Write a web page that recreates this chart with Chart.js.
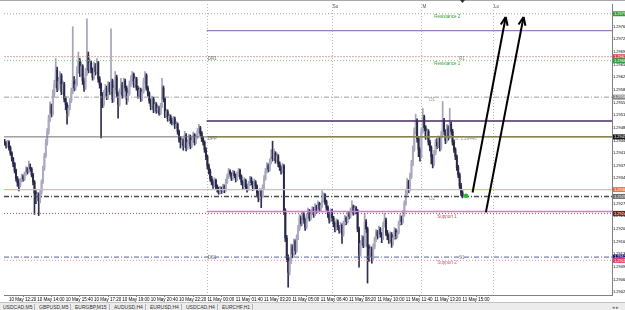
<!DOCTYPE html>
<html>
<head>
<meta charset="utf-8">
<script src="https://cdn.jsdelivr.net/npm/chart.js@4.4.1/dist/chart.umd.min.js"></script>
<style>
html, body { margin: 0; padding: 0; background: #fff; }
#wrap { position: relative; width: 625px; height: 310px; overflow: hidden; }
#myChart { position: absolute; left: 0; top: 0; }
#tabs { position: absolute; left: 0; top: 302px; width: 625px; height: 8px; background: #ececec; border-top: 1px solid #c4c4c4;
        font: 5px "Liberation Sans", Arial, sans-serif; color: #333; }
#tabs span { position: absolute; top: 1px; white-space: nowrap; }
#tabs i { position: absolute; top: 1px; width: 1px; height: 6px; background: #b4b4b4; }
</style>
</head>
<body>
<div id="wrap">
<canvas id="myChart" width="625" height="302"></canvas>
<div id="tabs"></div>
</div>
<script>
// prices in points above 1.29000, one M5 bar each
const firstOpen = 440;
const closes = [
  438,430,441,425,410,395,380,362,340,328,322,335,345,338,352,365,358,372,366,350,
  330,300,285,296,278,300,330,368,402,440,470,505,540,520,575,600,640,590,610,625,
  580,600,560,545,520,535,555,580,610,590,600,640,665,630,650,610,590,630,680,640,
  660,640,620,650,635,660,615,600,570,545,575,590,565,600,580,610,560,590,620,575,
  545,580,600,570,610,590,560,575,600,615,628,600,615,590,570,585,560,580,610,625,
  590,575,555,540,560,530,545,528,535,520,540,590,560,515,525,505,512,500,495,505,
  485,490,470,450,440,445,430,460,425,440,455,430,445,460,440,455,470,480,465,450,
  440,420,400,375,360,340,330,320,335,318,310,300,312,305,318,308,330,345,360,352,
  340,355,348,338,350,362,345,330,320,335,318,310,325,340,328,315,330,318,300,285,
  305,290,315,340,360,375,365,385,400,395,410,390,402,380,370,360,375,250,175,120,
  80,110,150,130,165,140,175,200,230,215,240,225,205,235,250,230,245,255,240,262,
  250,270,255,265,280,295,275,260,240,225,250,230,215,200,220,205,195,210,185,215,
  230,220,240,235,250,262,245,258,250,200,130,160,175,155,220,200,150,130,145,120,
  150,170,190,180,200,185,175,210,225,190,180,170,185,160,175,195,180,190,215,230,
  220,240,270,300,330,310,345,380,420,470,500,450,420,400,470,510,480,455,470,440,
  425,400,380,410,440,430,450,425,460,500,470,445,480,455,490,470,440,420,400,370,
  350,320,300,290
];
const highs = [
  448,442,446,444,430,414,398,384,366,345,336,340,352,350,358,372,370,388,380,370,
  354,334,306,302,300,308,336,374,410,448,478,515,552,546,585,612,672,648,620,636,
  630,610,606,566,550,542,562,590,760,622,615,650,690,672,662,655,618,645,782,690,
  670,665,646,662,658,672,664,622,604,578,584,600,596,608,606,754,615,598,636,626,
  580,588,617,606,618,615,596,584,610,624,636,632,622,620,596,592,590,588,618,636,
  630,596,580,560,568,565,552,550,542,540,548,617,596,565,532,530,518,516,507,512,
  510,498,494,474,456,452,450,470,464,448,462,460,452,468,464,462,478,490,484,470,
  455,444,425,404,380,366,346,336,342,338,322,315,318,316,324,322,338,352,368,364,
  356,362,360,352,358,368,366,350,334,342,338,324,332,346,344,332,338,334,322,305,
  312,310,322,348,368,384,380,394,420,443,422,414,410,406,386,375,382,378,256,182,
  128,122,158,156,172,170,184,210,240,236,248,245,230,242,258,254,252,262,260,270,
  266,278,274,272,306,300,298,280,264,246,256,254,235,220,228,225,210,218,214,222,
  238,234,248,246,258,278,266,265,262,254,205,168,182,180,243,226,205,156,152,150,
  158,178,198,196,208,204,190,218,243,230,196,186,192,190,182,204,200,196,222,240,
  236,251,278,310,340,335,355,390,430,480,518,505,455,426,478,534,515,486,478,475,
  446,430,406,418,448,450,458,455,470,553,506,475,490,486,534,496,476,446,425,405,
  376,355,326,306
];
const lows = [
  432,424,427,418,404,388,372,355,332,318,305,316,330,332,334,348,352,355,360,344,
  322,240,270,278,237,272,296,326,362,398,432,462,498,510,515,566,592,580,584,602,
  572,574,552,530,490,512,530,550,575,582,584,596,632,622,624,600,581,586,625,632,
  634,632,612,615,626,630,606,590,452,536,540,568,558,560,572,575,550,552,585,566,
  507,540,574,562,565,582,545,553,570,594,610,592,594,584,562,565,553,555,576,604,
  584,568,548,530,535,522,525,520,522,515,516,536,552,508,510,498,500,492,488,490,
  478,480,462,440,424,432,418,426,416,420,436,422,425,440,432,436,450,465,458,442,
  432,412,392,366,352,332,322,312,316,310,302,296,297,298,302,300,304,326,340,346,
  334,336,342,330,334,345,338,322,310,316,310,302,306,320,322,306,310,310,292,275,
  280,259,286,310,335,355,358,360,380,388,390,382,386,372,362,352,355,240,165,110,
  39,72,104,120,125,130,135,170,195,208,210,216,196,200,230,222,225,240,232,236,
  244,246,248,250,260,274,268,252,232,216,220,222,206,192,196,198,188,190,160,180,
  210,212,216,228,230,246,238,240,242,192,94,125,155,148,150,190,50,110,122,105,
  115,145,165,172,176,178,162,170,205,182,170,160,165,149,155,170,172,175,186,210,
  212,216,235,265,295,300,305,340,375,415,462,440,400,388,396,465,472,448,450,432,
  416,380,369,375,405,422,425,416,420,455,462,436,440,446,450,462,432,412,392,362,
  342,312,292,286
];

// time axis
const timeBars = [3,23,43,63,83,103,123,143,163,183,203,223,243,263,283,303,323];
const timeLabels = ['10 May 12:20','10 May 14:00','10 May 15:40','10 May 17:20','10 May 19:00','10 May 20:40',
  '10 May 22:20','11 May 00:00','11 May 01:40','11 May 03:20','11 May 05:00','11 May 06:40','11 May 08:20',
  '11 May 10:00','11 May 11:40','11 May 13:20','11 May 15:00'];
const priceTicks = [1.29025,1.29060,1.29095,1.29130,1.29165,1.29200,1.29235,1.29270,1.29305,1.29340,1.29375,
  1.29410,1.29445,1.29480,1.29515,1.29550,1.29585,1.29620,1.29655,1.29690,1.29725,1.29760,1.29795];

// horizontal levels (price, first bar)
const levelPrices = [1.29796,1.29749,1.29677,1.29666,1.29565,1.29499,1.29455,1.29455,1.29309,1.29290,1.29248,1.29243,1.29122,1.29113];
const levelStart  = [-0.5,142.5,-0.5,-0.5,-0.5,142.5,-0.5,142.5,-0.5,-0.5,142.5,-0.5,-0.5,-0.5];
// right-hand price boxes
const boxPrices = [1.29796,1.29677,1.29666,1.29565,1.29455,1.29309,1.29290,1.29243,1.29122,1.29113];
// texts on the chart
const noteText  = ['Resistance 2','DR1','R1','Resistance 1','D1','DPP','Lo: 1.29446','D2','Support 1','DS1','S1','Support 2'];
const noteBar   = [303,143.3,320.5,303,299.5,143.3,316.3,299.5,305.2,143.3,320.5,305.2];
const notePrice = [1.29787,1.29670,1.29670,1.29657,1.29559,1.29449,1.29449,1.29284,1.29234,1.29119,1.29119,1.29105];
// session separators
const sessionBars  = [142.5,230.8,294,344.5];
const sessionNames = ['','Su','M','Lo'];
// arrows: [from, to]
const arrowBars   = [[330.1,353.5],[339.5,366.1]];
const arrowPrices = [[1.29301,1.29787],[1.29246,1.29787]];
const lastTick = {bar: 325.5, price: 1.29292};

const tabNames = ['USDCAD,M5','GBPUSD,M5','EURGBP,M15','AUDUSD,H4','EURUSD,H4','USDCAD,H4','EURCHF,H1'];

// ---- styles
const levelStyle = [
  {c:'#86c486', w:1,   d:[1,2]},
  {c:'#9a7ab8', w:1.2, d:[]},
  {c:'#d4a8a8', w:1,   d:[2,1]},
  {c:'#86c486', w:1,   d:[1,2]},
  {c:'#9c9c9c', w:1,   d:[5,2,1,2]},
  {c:'#4a2a5e', w:1.5, d:[]},
  {c:'#707070', w:1,   d:[]},
  {c:'#aaaa2a', w:1.5, d:[]},
  {c:'#f2b493', w:1.2, d:[]},
  {c:'#4a4a4a', w:1.4, d:[5,2,1,2]},
  {c:'#e46ee4', w:1.5, d:[]},
  {c:'#9a4a66', w:1,   d:[1,2]},
  {c:'#5c5c96', w:1,   d:[5,2,1,2]},
  {c:'#e894a6', w:1,   d:[1,2]}
];
const boxColor = ['#3a9a3a','#d44848','#3a9a3a','#8a8a8a','#161616','#ee7434','#6a6a6a','#7a1818','#161678','#e0386a'];
const noteColor = ['#3a9a3a','#707070','#808080','#3a9a3a','#909090','#707070','#909090','#909090','#c25a5a','#707070','#808080','#d4607a'];
const font = 'Liberation Sans';

const xMin = -0.5, xMax = 428.5;
const base = 1.29, pt = 0.00001;
const px = v => +(base + v * pt).toFixed(5);
const opens = [firstOpen].concat(closes.slice(0, -1));
const isUp = closes.map((c, i) => c >= opens[i]);

const wickData = highs.map((h, i) => ({ x: i, y: [px(lows[i]), px(h)] }));
const bodyData = closes.map((c, i) => ({ x: i, y: [px(Math.min(opens[i], c)), px(Math.max(opens[i], c))] }));

const levelSets = levelPrices.map((p, k) => ({
  type: 'line',
  data: [{ x: levelStart[k], y: p }, { x: xMax, y: p }],
  borderColor: levelStyle[k].c, borderWidth: levelStyle[k].w, borderDash: levelStyle[k].d,
  pointRadius: 0, fill: false, order: 0
}));
const arrowSets = arrowBars.map((b, k) => ({
  type: 'line', arrow: true,
  data: [{ x: b[0], y: arrowPrices[k][0] }, { x: b[1], y: arrowPrices[k][1] }],
  borderColor: '#000', borderWidth: 2, pointRadius: 0, fill: false, order: -2
}));

const decor = {
  id: 'decor',
  beforeDraw(chart) {
    const c = chart.ctx;
    c.save();
    c.fillStyle = '#fff';
    c.fillRect(0, 0, chart.width, chart.height);
    c.fillStyle = '#a8a8a8';
    c.fillRect(0, 0, chart.width, 1);
    c.restore();
  },
  beforeDatasetsDraw(chart) {
    const c = chart.ctx, a = chart.chartArea, xs = chart.scales.x;
    c.save();
    c.strokeStyle = '#b8b8b8';
    c.lineWidth = 1;
    c.setLineDash([1, 2]);
    sessionBars.forEach(b => {
      const x = Math.round(xs.getPixelForValue(b)) + 0.5;
      c.beginPath(); c.moveTo(x, a.top); c.lineTo(x, a.bottom); c.stroke();
    });
    c.restore();
  },
  afterDraw(chart) {
    const c = chart.ctx, a = chart.chartArea, xs = chart.scales.x, ys = chart.scales.y;
    c.save();
    // arrow heads
    chart.data.datasets.forEach((ds, i) => {
      if (!ds.arrow) return;
      const pts = chart.getDatasetMeta(i).data;
      const p0 = pts[0], p1 = pts[pts.length - 1];
      const ang = Math.atan2(p1.y - p0.y, p1.x - p0.x);
      c.strokeStyle = '#000'; c.lineWidth = 2; c.setLineDash([]);
      [0.4, -0.4].forEach(d => {
        c.beginPath();
        c.moveTo(p1.x, p1.y);
        c.lineTo(p1.x - 9 * Math.cos(ang + d), p1.y - 9 * Math.sin(ang + d));
        c.stroke();
      });
    });
    // notes
    c.font = '4.5px "' + font + '"';
    c.textBaseline = 'middle';
    c.textAlign = 'left';
    noteText.forEach((t, k) => {
      c.fillStyle = noteColor[k];
      c.fillText(t, xs.getPixelForValue(noteBar[k]), ys.getPixelForValue(notePrice[k]));
    });
    sessionNames.forEach((t, k) => {
      if (!t) return;
      c.fillStyle = '#505050';
      c.fillText(t, xs.getPixelForValue(sessionBars[k]) + 1, a.top + 3);
    });
    // chart shift marker
    const sx = xs.getPixelForValue(closes.length - 1);
    c.fillStyle = '#303030';
    c.beginPath(); c.moveTo(sx - 2.5, 0); c.lineTo(sx + 2.5, 0); c.lineTo(sx, 3); c.closePath(); c.fill();
    // price boxes
    c.font = '4px "' + font + '"';
    boxPrices.forEach((p, k) => {
      const y = ys.getPixelForValue(p);
      c.fillStyle = boxColor[k];
      c.fillRect(a.right + 1, y - 2.5, 13, 5);
      c.fillStyle = '#fff';
      c.fillText(p.toFixed(5), a.right + 2, y + 0.2);
    });
    c.restore();
  }
};

function drawChart() {
  const ctx = document.getElementById('myChart').getContext('2d');
  new Chart(ctx, {
    type: 'bar',
    data: {
      datasets: [
        ...levelSets,
        {
          label: 'wick', data: wickData, barThickness: 1, grouped: false, order: 2,
          backgroundColor: isUp.map(u => u ? '#a2a2b8' : '#2e2e50')
        },
        {
          label: 'body', data: bodyData, barThickness: 1.3, grouped: false, minBarLength: 1, order: 1,
          backgroundColor: isUp.map(u => u ? '#aaaac0' : '#282848')
        },
        ...arrowSets,
        {
          type: 'line', data: [{ x: lastTick.bar, y: lastTick.price }], showLine: false,
          pointRadius: 2.3, pointBackgroundColor: '#22c022', pointBorderWidth: 0, order: -3
        }
      ]
    },
    options: {
      responsive: false,
      animation: false,
      events: [],
      layout: { padding: { top: 2, left: 0, right: 0, bottom: 0 } },
      plugins: { legend: { display: false }, tooltip: { enabled: false } },
      scales: {
        x: {
          type: 'linear', min: xMin, max: xMax, offset: false,
          grid: { display: true, drawOnChartArea: false, tickLength: 2, color: '#808080' },
          border: { display: true, color: '#808080' },
          afterBuildTicks: s => { s.ticks = timeBars.map(v => ({ value: v })); },
          afterFit: s => { s.height = 7; },
          ticks: {
            autoSkip: false, maxRotation: 0, minRotation: 0, align: 'start', padding: 0,
            color: '#000', font: { size: 4.5, family: font },
            callback: (v, i) => timeLabels[i]
          }
        },
        y: {
          position: 'right', min: 1.29017, max: 1.29823,
          grid: { display: true, drawOnChartArea: false, tickLength: 1, color: '#808080' },
          border: { display: true, color: '#808080' },
          afterBuildTicks: s => { s.ticks = priceTicks.map(v => ({ value: v })); },
          afterFit: s => { s.width = 13; },
          ticks: {
            padding: 0, color: '#000', font: { size: 4, family: font },
            callback: v => v.toFixed(5)
          }
        }
      }
    },
    plugins: [decor]
  });
}

function drawTabs() {
  const bar = document.getElementById('tabs');
  let x = 3;
  tabNames.forEach(n => {
    const s = document.createElement('span');
    s.textContent = n;
    s.style.left = x + 'px';
    bar.appendChild(s);
    x += s.offsetWidth + 4;
    const sep = document.createElement('i');
    sep.style.left = (x - 2) + 'px';
    bar.appendChild(sep);
    x += 3;
  });
  const nav = document.createElement('span');
  nav.textContent = '\u25C2 \u25B8';
  nav.style.left = '612px';
  nav.style.color = '#707070';
  bar.appendChild(nav);
}

drawChart();
drawTabs();
</script>
</body>
</html>
